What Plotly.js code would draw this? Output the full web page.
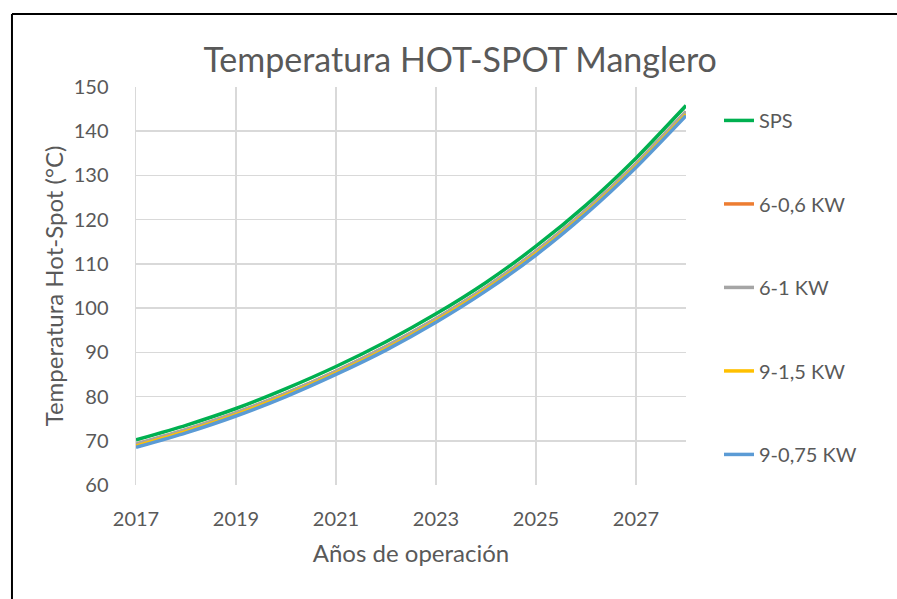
<!DOCTYPE html>
<html>
<head>
<meta charset="utf-8">
<script src="https://cdn.plot.ly/plotly-3.0.1.min.js"></script>
<style>
html,body{margin:0;padding:0;background:#fff;overflow:hidden;}
#chart{position:absolute;left:0;top:0;width:897px;height:599px;}
</style>
</head>
<body>
<div id="chart"></div>
<script>
const years = [2017,2018,2019,2020,2021,2022,2023,2024,2025,2026,2027,2028];
const sps      = [70.2,73.5,77.3,81.8,86.8,92.4,98.7,105.8,114.0,123.3,133.9,145.8];
const s6_06kw  = [69.2,72.5,76.3,80.7,85.7,91.3,97.6,104.7,112.8,122.1,132.6,144.4];
const s6_1kw   = [69.2,72.5,76.3,80.7,85.7,91.3,97.6,104.7,112.8,122.1,132.6,144.4];
const s9_15kw  = [68.8,72.1,75.9,80.3,85.3,90.8,97.1,104.2,112.3,121.6,132.1,143.8];
const s9_075kw = [68.5,71.8,75.6,80.0,85.0,90.5,96.8,103.9,112.0,121.3,131.8,143.5];
const seriesNames = ["SPS","6-0,6 KW","6-1 KW","9-1,5 KW","9-0,75 KW"];
const seriesData = [sps,s6_06kw,s6_1kw,s9_15kw,s9_075kw];
const colors = ["#00B050","#ED7D31","#A5A5A5","#FFC000","#5B9BD5"];
const xTicks = [2017,2019,2021,2023,2025,2027];
const yTicks = [60,70,80,90,100,110,120,130,140,150];

const traces = seriesData.map((d,i)=>({
  x: years, y: d, name: seriesNames[i], type:'scatter', mode:'lines',
  line:{color:colors[i], width:3.5, shape:'spline', smoothing:0.6},
  legendgroup:'g'+i
}));

const font = "Lato, 'Open Sans', sans-serif";
const layout = {
  width:897, height:599,
  margin:{l:136, r:211, t:87, b:114},
  paper_bgcolor:'#fff', plot_bgcolor:'#fff',
  font:{family:font, color:'#595959', size:20},
  title:{text:'Temperatura HOT-SPOT Manglero', font:{family:font, size:34, color:'#595959'}, x:0.513, xanchor:'center', y:0.9, yanchor:'middle', yref:'container'},
  xaxis:{range:[2017,2028], tickvals:xTicks, ticktext:xTicks.map(String), showgrid:true, gridcolor:'#d9d9d9', gridwidth:1.5,
    zeroline:false, showline:false, ticks:'', tickfont:{size:20, color:'#595959'}, ticklabelstandoff:20,
    title:{text:'Años de operación', font:{size:24, color:'#595959'}, standoff:16}},
  yaxis:{range:[60,150], tickvals:yTicks, showgrid:true, gridcolor:'#d9d9d9', gridwidth:1.5,
    zeroline:false, showline:true, linecolor:'#d9d9d9', linewidth:1.5, ticks:'', tickfont:{size:20, color:'#595959'}, ticklabelstandoff:22,
    title:{text:'Temperatura Hot-Spot (°C)', font:{size:24, color:'#595959'}, standoff:3}},
  showlegend:true,
  legend:{x:1.06, xanchor:'left', y:0.965, yanchor:'top', font:{size:20, color:'#595959'},
    traceorder:'grouped', tracegroupgap:54.5, bgcolor:'rgba(0,0,0,0)'},
  shapes:[
    {type:'line', xref:'paper', yref:'paper', x0:-0.2255, x1:1.5, y0:1.1834, y1:1.1834, line:{color:'#000', width:2}, layer:'above'},
    {type:'line', xref:'paper', yref:'paper', x0:-0.2255, x1:-0.2255, y0:1.1834, y1:-0.4, line:{color:'#000', width:2}, layer:'above'}
  ]
};
Plotly.newPlot('chart', traces, layout, {displayModeBar:false, staticPlot:true});
</script>
</body>
</html>
